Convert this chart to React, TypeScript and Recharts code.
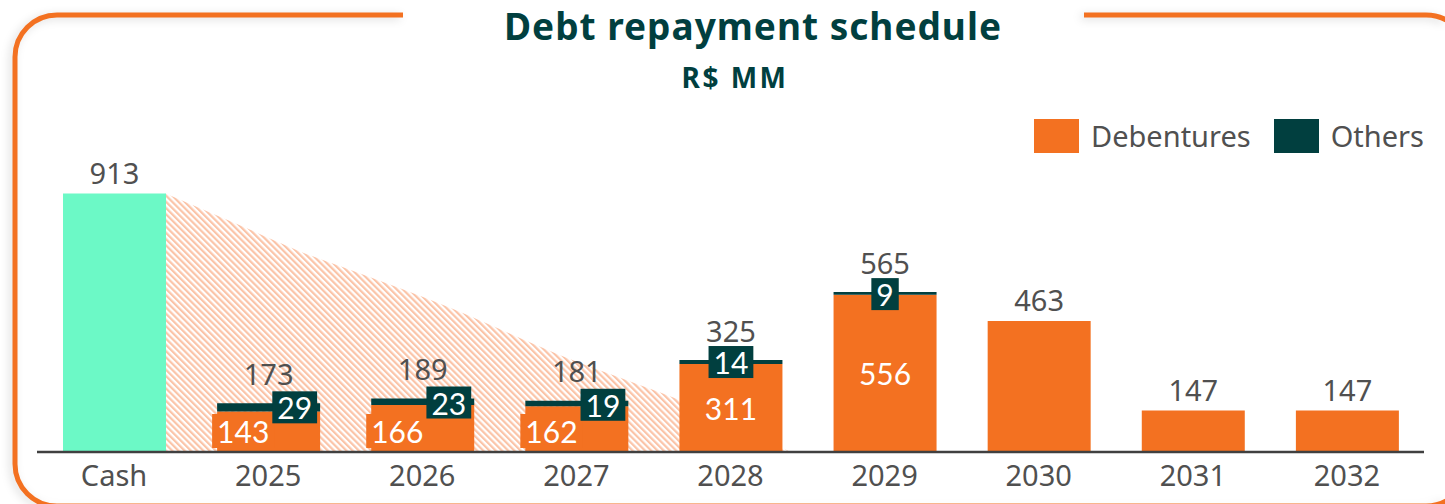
import { Area, Bar, ComposedChart, LabelList, Legend, XAxis, YAxis } from "recharts"

const categories = ["Cash", "2025", "2026", "2027", "2028", "2029", "2030", "2031", "2032"]
const cashValues = [913, 0, 0, 0, 0, 0, 0, 0, 0]
const debentureValues = [0, 143, 166, 162, 311, 556, 463, 147, 147]
const otherValues = [0, 29, 23, 19, 14, 9, 0, 0, 0]
const totalLabels = [913, 173, 189, 181, 325, 565, 463, 147, 147]

// hatched cash run-off behind the bars: x in category units (Cash band = 0..1), value in R$ MM
const runoffPositions = [0.834, 1.38, 1.71, 2.03, 2.68, 3.39, 3.91, 4.17, 4.89]
const runoffValues = [913, 786, 708, 644, 510, 343, 237, 184, 0]

const cornerLabelYears = ["2025", "2026", "2027"]
const centerLabelYears = ["2028", "2029"]

const ORANGE = "#f37121"
const DARK = "#013f3f"
const MINT = "#6cf9c6"
const HATCH = "#fbc4a8"
const TEXT = "#505050"
const LABEL_FONT = "'Noto Sans', 'Open Sans', sans-serif"
const INNER_FONT = "Lato, 'Noto Sans', sans-serif"

const WIDTH = 1445
const HEIGHT = 504

const rows = categories.map((name, i) => ({
  name,
  cash: cashValues[i],
  debentures: debentureValues[i],
  others: otherValues[i],
  total: totalLabels[i],
}))

const runoff = runoffPositions.map((pos, i) => ({ pos, remaining: runoffValues[i] }))

const innerTextWidth = (text: string) => text.length * 17.4

// which series is the top segment of a column (gets the total above it)
function topSeries(i: number) {
  if (otherValues[i] > 0) return "others"
  if (debentureValues[i] > 0) return "debentures"
  return "cash"
}

function TotalText({ cx, y, i }: { cx: number; y: number; i: number }) {
  const lift = otherValues[i] > 0 ? 30 : 21
  return (
    <text
      x={cx}
      y={y - lift}
      textAnchor="middle"
      dominantBaseline="central"
      fill={TEXT}
      fontSize={29}
      fontFamily={LABEL_FONT}
    >
      {totalLabels[i]}
    </text>
  )
}

function CashLabel(props: any) {
  const { x, y, width } = props.viewBox ?? props
  const i = categories.indexOf(props.value)
  if (i < 0 || topSeries(i) !== "cash") return null
  return <TotalText cx={x + width / 2} y={y} i={i} />
}

function OthersLabel(props: any) {
  const { x, y, width } = props.viewBox ?? props
  const i = categories.indexOf(props.value)
  if (i < 0 || otherValues[i] <= 0) return null
  const name = categories[i]
  const cx = x + width / 2
  const text = String(otherValues[i])
  const bw = innerTextWidth(text) + 10
  const bh = 32
  const corner = cornerLabelYears.includes(name)
  const bx = corner ? x + width - 3 - bw : cx - bw / 2
  const by = (corner ? y + 4 : y + 2) - bh / 2

  return (
    <g>
      <TotalText cx={cx} y={y} i={i} />
      <rect x={bx} y={by} width={bw} height={bh} fill={DARK} />
      <text
        x={bx + bw / 2}
        y={by + bh / 2}
        textAnchor="middle"
        dominantBaseline="central"
        fill="#fff"
        fontSize={30}
        fontFamily={INNER_FONT}
      >
        {text}
      </text>
    </g>
  )
}

function DebenturesLabel(props: any) {
  const { x, y, width, height } = props.viewBox ?? props
  const i = categories.indexOf(props.value)
  if (i < 0) return null
  const name = categories[i]
  const text = String(debentureValues[i])
  const total = topSeries(i) === "debentures" ? <TotalText cx={x + width / 2} y={y} i={i} /> : null

  if (cornerLabelYears.includes(name)) {
    const bottom = y + height - 4
    const bh = 34
    return (
      <g>
        {total}
        <rect x={x - 5} y={bottom - bh} width={innerTextWidth(text) + 10} height={bh} fill={ORANGE} />
        <text
          x={x}
          y={bottom - bh / 2}
          dominantBaseline="central"
          fill="#fff"
          fontSize={30}
          fontFamily={INNER_FONT}
        >
          {text}
        </text>
      </g>
    )
  }
  if (centerLabelYears.includes(name)) {
    return (
      <g>
        {total}
        <text
          x={x + width / 2}
          y={y + height / 2}
          textAnchor="middle"
          dominantBaseline="central"
          fill="#fff"
          fontSize={30}
          fontFamily={INNER_FONT}
        >
          {text}
        </text>
      </g>
    )
  }
  return total
}

function LegendContent({ payload }: any) {
  const items = (payload ?? []).filter(
    (p: any) => p.dataKey === "debentures" || p.dataKey === "others",
  )
  return (
    <div style={{ display: "flex", alignItems: "center", gap: 23 }}>
      {items.map((p: any) => (
        <div key={p.dataKey} style={{ display: "flex", alignItems: "center", gap: 12 }}>
          <span style={{ width: 45, height: 34, background: p.color, display: "inline-block" }} />
          <span
            style={{
              fontFamily: LABEL_FONT,
              fontSize: 29,
              color: TEXT,
              lineHeight: "34px",
              whiteSpace: "nowrap",
            }}
          >
            {p.value}
          </span>
        </div>
      ))}
    </div>
  )
}

export default function App() {
  return (
    <div
      style={{
        position: "absolute",
        left: 0,
        top: 0,
        width: WIDTH,
        height: HEIGHT,
        overflow: "hidden",
        background: "#fff",
      }}
    >
      <svg
        width={WIDTH}
        height={HEIGHT}
        style={{
          position: "absolute",
          left: 0,
          top: 0,
          filter: "drop-shadow(-3px 2px 4px rgba(0,0,0,0.14))",
        }}
      >
        <path
          d="M 403 15 H 57 A 42 42 0 0 0 15 57 V 464 A 42 42 0 0 0 57 506 H 1426 A 42 42 0 0 0 1468 464 V 57 A 42 42 0 0 0 1426 15 H 1084"
          fill="none"
          stroke={ORANGE}
          strokeWidth={5}
        />
      </svg>

      <div
        style={{
          position: "absolute",
          left: 753,
          top: 4,
          transform: "translateX(-50%)",
          fontFamily: "'Noto Sans', sans-serif",
          fontWeight: 700,
          fontSize: 37,
          letterSpacing: 1,
          lineHeight: "44px",
          color: DARK,
          whiteSpace: "nowrap",
        }}
      >
        Debt repayment schedule
      </div>
      <div
        style={{
          position: "absolute",
          left: 735,
          top: 60,
          transform: "translateX(-50%)",
          fontFamily: "'Noto Sans', sans-serif",
          fontWeight: 700,
          fontSize: 28,
          letterSpacing: 2.5,
          lineHeight: "34px",
          color: DARK,
          whiteSpace: "nowrap",
        }}
      >
        R$ MM
      </div>

      <div style={{ position: "absolute", left: 0, top: 0 }}>
        <ComposedChart
          width={WIDTH}
          height={HEIGHT}
          data={rows}
          margin={{ top: 169, right: 21, bottom: 22, left: 37 }}
          barSize={103}
        >
          <defs>
            <pattern
              id="hatch"
              width={4.4}
              height={4.4}
              patternUnits="userSpaceOnUse"
              patternTransform="rotate(-45)"
            >
              <rect x={0} y={0} width={2.2} height={4.4} fill={HATCH} />
            </pattern>
          </defs>
          <XAxis
            dataKey="name"
            tickLine={false}
            tickSize={0}
            tickMargin={13}
            axisLine={{ stroke: "#404040", strokeWidth: 2.5 }}
            tick={{ fill: TEXT, fontSize: 29, fontFamily: LABEL_FONT }}
            interval={0}
          />
          <XAxis xAxisId="pos" dataKey="pos" type="number" domain={[0, 9]} hide />
          <YAxis domain={[0, 1000]} hide allowDataOverflow />
          <Legend
            layout="vertical"
            align="center"
            verticalAlign="middle"
            wrapperStyle={{ top: 119, left: 1034, width: 420, height: 34 }}
            content={<LegendContent />}
          />
          <Area
            xAxisId="pos"
            data={runoff}
            dataKey="remaining"
            type="monotone"
            stroke="none"
            fill="url(#hatch)"
            fillOpacity={1}
            legendType="none"
            isAnimationActive={false}
          />
          <Bar dataKey="cash" stackId="s" fill={MINT} legendType="none" isAnimationActive={false}>
            <LabelList dataKey="name" content={<CashLabel />} />
          </Bar>
          <Bar dataKey="debentures" name="Debentures" stackId="s" fill={ORANGE} isAnimationActive={false}>
            <LabelList dataKey="name" content={<DebenturesLabel />} />
          </Bar>
          <Bar dataKey="others" name="Others" stackId="s" fill={DARK} isAnimationActive={false}>
            <LabelList dataKey="name" content={<OthersLabel />} />
          </Bar>
        </ComposedChart>
      </div>
    </div>
  )
}
